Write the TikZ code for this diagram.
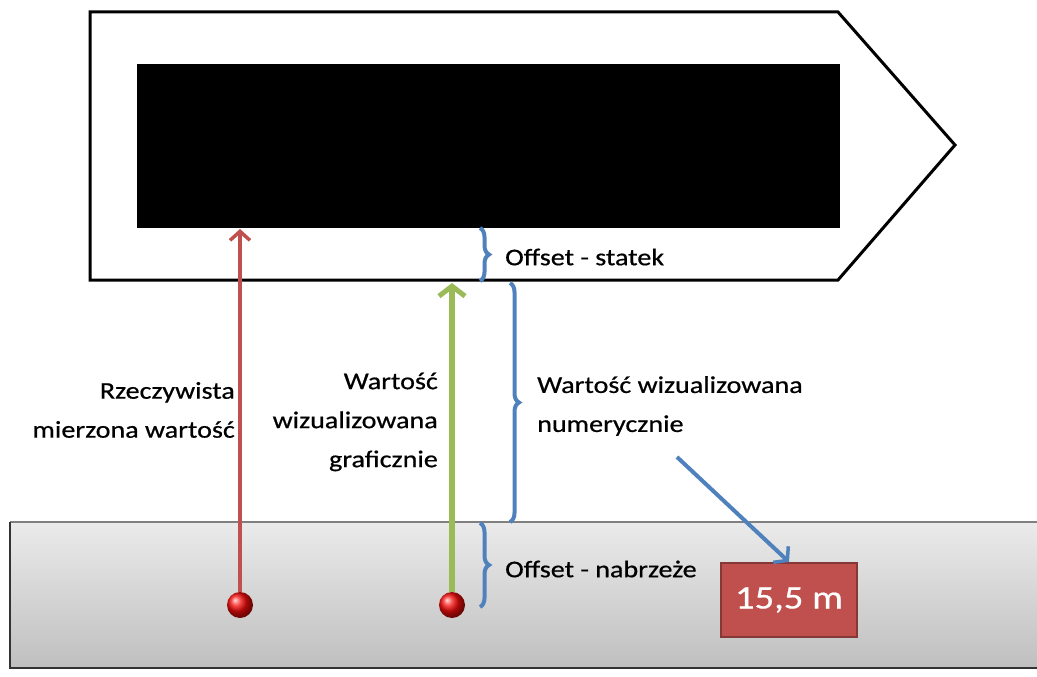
\documentclass[tikz,border=0pt]{standalone}
\usepackage{fontspec}
\setmainfont{Carlito}[FakeStretch=1.17,FakeBold=0.6]
\usetikzlibrary{arrows.meta,decorations.pathreplacing,positioning}
\definecolor{ofred}{HTML}{C0504D}
\definecolor{ofgreen}{HTML}{9BBB59}
\definecolor{ofblue}{HTML}{4F81BD}

\begin{document}
\begin{tikzpicture}[x=1pt,y=-1pt,
	ball/.style={circle,inner sep=0pt,minimum size=26pt,ball color=red!85!ofred},
	brace/.style={draw=ofblue,line width=4pt,decorate,decoration={brace,amplitude=9pt}},
	lbl/.style={font=\fontsize{24}{39}\selectfont,inner sep=0pt,text=black}]
\useasboundingbox (0,0) rectangle (1037,677);

% nabrzeze
\shade[top color=black!8,bottom color=black!25] (10,522) rectangle (1045,668);
\draw[black!50,line width=2.5pt] (10,522) -- (1045,522);
\draw[black!80,line width=2.5pt] (1045,668) -- (10,668) -- (10,522);

% statek
\draw[line width=3pt,fill=white] (90,12) -- (838,12) -- (955,145) -- (838,280) -- (90,280) -- cycle;
\fill[black] (137,64) rectangle (840,228);

\coordinate (st) at (480,228);
\coordinate (sb) at (480,281);
\coordinate (nt) at (510,283);
\coordinate (nb) at (510,522);
\coordinate (qt) at (480,523);
\coordinate (qb) at (480,607);

\node[ball] at (240,605) (realball) {};
\node[ball] at (452,605) (grafball) {};
\coordinate (realtip) at (240,229);
\coordinate (graftip) at (452,283);

\draw[ofred,line width=3.5pt,-{Straight Barb[length=9pt,width=20pt,line width=3.5pt]}] (realball) -- (realtip);
\draw[ofgreen,line width=6pt,-{Straight Barb[length=10pt,width=26pt,line width=5pt]}] (grafball) -- (graftip);

\draw[brace] (st) -- (sb);
\draw[brace] (nt) -- (nb);
\draw[brace] (qt) -- (qb);

\node[lbl,anchor=west] at (505,257) (offstatek) {Offset - statek};
\node[lbl,anchor=west] at (505,569) (offnabrz) {Offset - nabrzeże};
\node[lbl,anchor=east,align=right] at (235,410) (real) {Rzeczywista\\mierzona wartość};
\node[lbl,anchor=east,align=right] at (438,422) (graf) {Wartość\\wizualizowana\\graficznie};
\node[lbl,anchor=west,align=left] at (537,406) (num) {Wartość wizualizowana\\numerycznie};

\node[draw=ofred!70!black,line width=2pt,fill=ofred,text=white,minimum width=136pt,minimum height=74pt,
	font=\fontsize{33}{36}\selectfont] at (789,600) (value) {15,5 m};

\draw[ofblue,line width=4pt,-{Straight Barb[length=9pt,width=22pt,line width=3.5pt]}] (677,457) -- (value.north);
\end{tikzpicture}
\end{document}
